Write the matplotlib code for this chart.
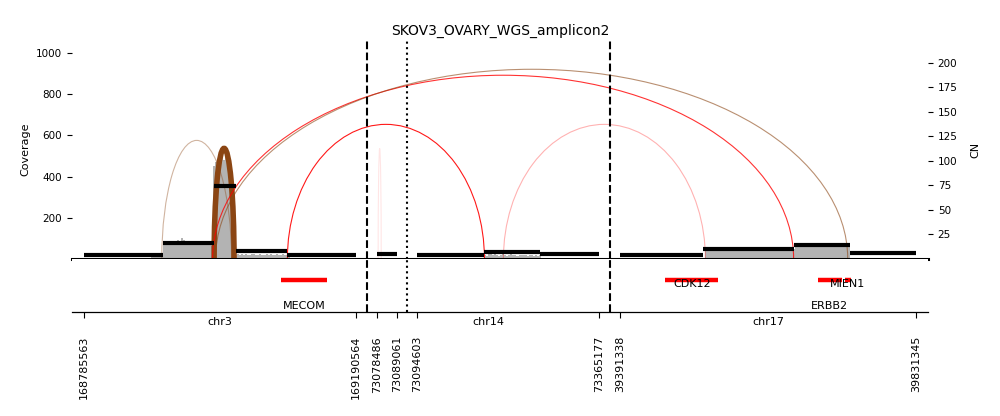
import numpy as np
import matplotlib
matplotlib.use('Agg')
import matplotlib.pyplot as plt
from matplotlib.patches import Arc
from matplotlib.transforms import blended_transform_factory

title = 'SKOV3_OVARY_WGS_amplicon2'

# intervals laid out along the x axis
seg_chrom = ['chr3', 'chr14', 'chr14', 'chr17']
seg_start = [168785563, 73078486, 73094603, 39391338]
seg_end = [169190564, 73089061, 73365177, 39831345]

# read coverage, evenly spaced bins inside each interval
cov_chr3 = ([4] * 33
            + [12, 18, 14, 20, 16, 22]
            + [72, 66, 80, 75, 84, 70, 88, 92, 85, 100, 90, 78, 82, 86, 74, 80, 70, 76, 68,
               72, 80, 66, 70, 74, 64]
            + [450, 470, 440, 490, 525, 480, 505, 460, 410, 380, 260]
            + [20, 22, 18, 21, 19, 23, 20, 18, 22, 21, 19, 20, 24, 18, 20, 22, 19, 21, 20,
               18, 22, 20, 19, 21, 20, 18, 20]
            + [4] * 33)
cov_chr14a = [5, 5, 5, 5]
cov_chr14b = ([4] * 33
              + [18, 16, 22, 45, 18, 40, 20, 15, 18, 44, 17, 16, 20, 35, 17, 18, 16, 17, 20,
                 18, 17, 16, 18, 17, 16, 18, 16, 17]
              + [5] * 29)
cov_chr17 = ([6] * 42
             + [46, 50, 48, 52, 47, 49, 45, 51, 48, 50, 47, 53, 49, 46, 48, 50, 52, 47, 49,
                48, 51, 46, 50, 48, 47, 49, 52, 48, 50, 46, 49, 51, 47, 48, 50, 49, 46, 52,
                48, 47, 50, 49, 48, 51, 47]
             + [62, 64, 60, 66, 63, 61, 65, 62, 64, 63, 60, 67, 62, 64, 61, 63, 65, 62, 60,
                64, 63, 66, 61, 62, 64, 63, 60]
             + [6] * 33)
coverage = [cov_chr3, cov_chr14a, cov_chr14b, cov_chr17]

# copy number segments
cn_seg = [0, 0, 0, 0, 0, 1, 2, 2, 2, 3, 3, 3, 3]
cn_start = [168785563, 168902700, 168978350, 169010980, 169088100, 73078486,
            73094603, 73194230, 73277500, 39391338, 39515100, 39649300, 39732800]
cn_end = [168902700, 168978350, 169010980, 169088100, 169190564, 73089061,
          73194230, 73277500, 73365177, 39515100, 39649300, 39732800, 39831345]
cn_value = [3.6, 16.1, 74.4, 7.5, 3.6, 4.5, 4.2, 7.2, 5.2, 4.2, 9.7, 13.8, 5.6]

# breakpoint edges
bp_seg1 = [0, 0, 0, 0, 0, 2, 1]
bp_pos1 = [168901240, 168979100, 168976870, 168981320, 169088100, 73222480, 73079040]
bp_seg2 = [0, 0, 3, 3, 2, 3, 1]
bp_pos2 = [169005050, 169008750, 39649280, 39729800, 73194230, 39518070, 73080710]
bp_height = [576, 537, 893, 922, 654, 654, 537]
bp_type = ['dup', 'dup', 'del', 'dup', 'del', 'del', 'del']
bp_support = [4, 60, 8, 6, 9, 3, 1]

# genes
gene_name = ['MECOM', 'CDK12', 'ERBB2', 'MIEN1']
gene_seg = [0, 3, 3, 3]
gene_start = [169079200, 39458400, 39685100, 39725400]
gene_end = [169147400, 39537460, 39720900, 39734300]

# layout of the intervals on one axis
GAP = 31000
MIN_W = 29000
MARGIN = 17850
widths = [max(e - s, MIN_W) for s, e in zip(seg_start, seg_end)]
offsets = []
pos = 0
for w in widths:
    offsets.append(pos)
    pos += w + GAP
total = offsets[-1] + widths[-1]


def to_x(seg, p):
    p = np.asarray(p, dtype=float)
    return offsets[seg] + (p - seg_start[seg]) * widths[seg] / (seg_end[seg] - seg_start[seg])


edge_colors = {'del': 'red', 'dup': '#8B4513', 'inv': 'teal'}

fig = plt.figure(figsize=(10, 4.16), dpi=100)
ax = fig.add_axes([0.072, 1 - 258.8 / 416, 0.856, (258.8 - 40.5) / 416])
ax2 = ax.twinx()
gax = fig.add_axes([0.072, 1 - 312 / 416, 0.856, (312 - 258.8) / 416])

# coverage bars
for i, vals in enumerate(coverage):
    edges = to_x(i, np.linspace(seg_start[i], seg_end[i], len(vals) + 1))
    ax.bar(edges[:-1], vals, width=np.diff(edges), align='edge',
           color='#b3b3b3', linewidth=0, zorder=1)

# breakpoint arcs
for s1, p1, s2, p2, h, t, sup in zip(bp_seg1, bp_pos1, bp_seg2, bp_pos2,
                                     bp_height, bp_type, bp_support):
    x1 = float(to_x(s1, p1))
    x2 = float(to_x(s2, p2))
    lw = 4 if sup > 20 else 0.8
    ax.add_patch(Arc(((x1 + x2) / 2, 0), x2 - x1, 2 * h, theta1=0, theta2=180,
                     color=edge_colors[t], alpha=min(1.0, sup / 10), lw=lw, zorder=2))

# copy number
for s, a, b, v in zip(cn_seg, cn_start, cn_end, cn_value):
    ax2.plot([to_x(s, a), to_x(s, b)], [v, v], color='black', lw=3,
             solid_capstyle='butt', zorder=3)

# separators between intervals
for i in range(len(seg_chrom) - 1):
    xm = (offsets[i] + widths[i] + offsets[i + 1]) / 2
    ls = ':' if seg_chrom[i] == seg_chrom[i + 1] else '--'
    ax2.axvline(xm, color='black', ls=ls, lw=1.5, zorder=5)
    gax.axvline(xm, color='black', ls=ls, lw=1.5)

ax.set_xlim(-MARGIN, total + MARGIN)
ax.set_ylim(0, 1062)
ax.set_yticks([200, 400, 600, 800, 1000])
ax.set_xticks([])
ax.set_ylabel('Coverage', fontsize=8)
ax.tick_params(axis='y', labelsize=7.5)
for side in ['top', 'left', 'right']:
    ax.spines[side].set_visible(False)
ax.spines['bottom'].set_linewidth(2.2)

ax2.set_ylim(0, 222.6)
ax2.set_yticks([25, 50, 75, 100, 125, 150, 175, 200])
ax2.set_ylabel('CN', fontsize=8, labelpad=9)
ax2.tick_params(axis='y', labelsize=7.5)
for side in ['top', 'left', 'right', 'bottom']:
    ax2.spines[side].set_visible(False)

ax.set_title(title, fontsize=10, pad=4)

# genes
gax.set_xlim(-MARGIN, total + MARGIN)
gax.set_ylim(0, 1)
for k, (name, s, a, b) in enumerate(zip(gene_name, gene_seg, gene_start, gene_end)):
    xa, xb = to_x(s, a), to_x(s, b)
    gax.plot([xa, xb], [0.61, 0.61], color='red', lw=3.2, solid_capstyle='butt')
    ty = 0.122 if k % 2 == 0 else 0.526
    gax.text((xa + xb) / 2, ty, name, fontsize=8, ha='center', va='center')

for side in ['top', 'left', 'right']:
    gax.spines[side].set_visible(False)
gax.spines['bottom'].set_linewidth(0.9)
gax.set_yticks([])

tick_pos = []
tick_lab = []
for i in range(len(seg_chrom)):
    tick_pos += [offsets[i], offsets[i] + widths[i]]
    tick_lab += [str(seg_start[i]), str(seg_end[i])]
gax.set_xticks(tick_pos)
gax.set_xticklabels(tick_lab, rotation=90, fontsize=8)
gax.tick_params(axis='x', length=4.3, pad=13)

trans = blended_transform_factory(gax.transData, gax.transAxes)
chroms = []
for c in seg_chrom:
    if c not in chroms:
        chroms.append(c)
for c in chroms:
    idx = [i for i, s in enumerate(seg_chrom) if s == c]
    left = offsets[idx[0]]
    right = offsets[idx[-1]] + widths[idx[-1]]
    gax.text((left + right) / 2, -0.094, c, transform=trans, fontsize=8,
             ha='center', va='top')

fig.savefig('out.png', dpi=100)
